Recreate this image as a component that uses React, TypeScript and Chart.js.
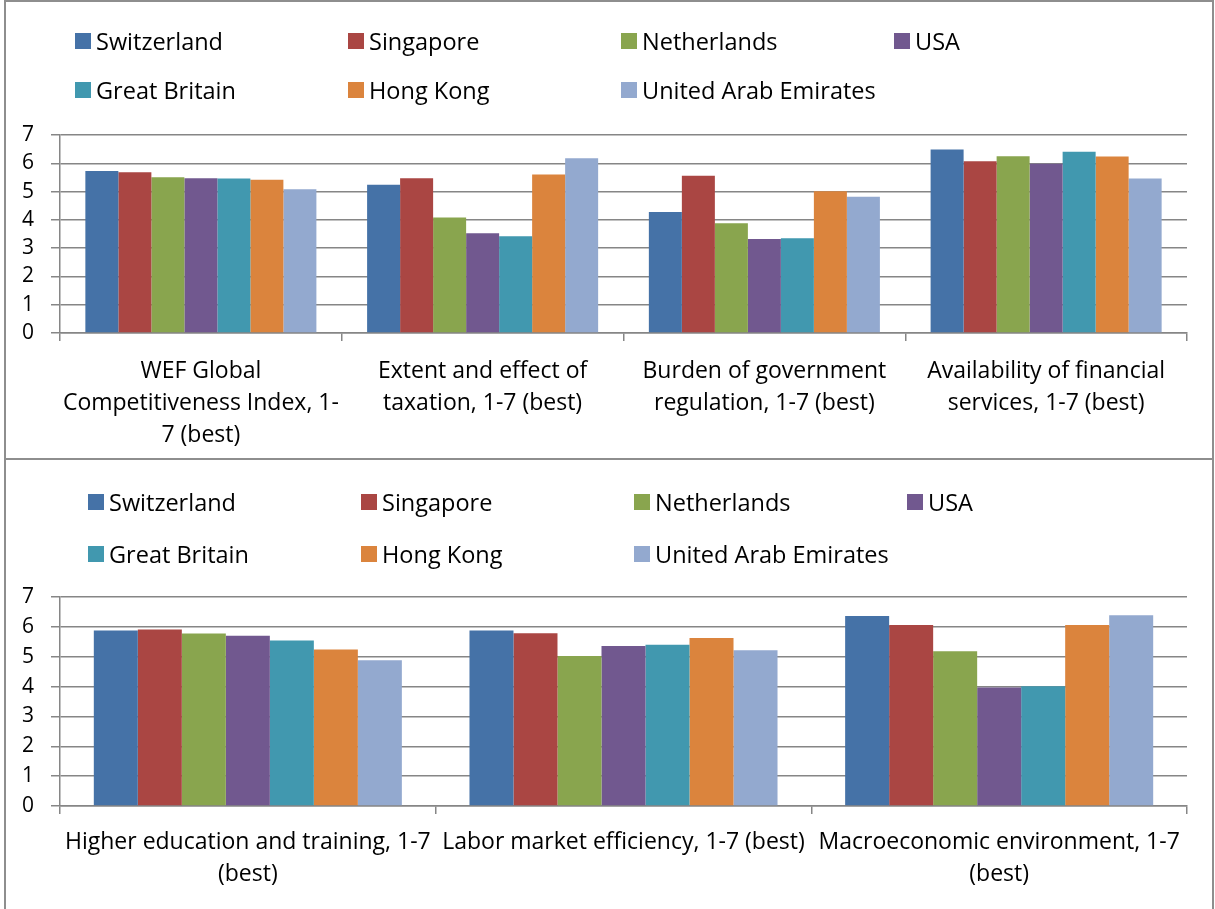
import React, { useEffect, useRef } from "react";
import { Chart, registerables } from "chart.js";

Chart.register(...registerables);

const FONT = "'Open Sans', sans-serif";
const GRID = "#868686";

const countries = [
  "Switzerland",
  "Singapore",
  "Netherlands",
  "USA",
  "Great Britain",
  "Hong Kong",
  "United Arab Emirates",
];
const countryColors = ["#4572A7", "#AA4643", "#89A54E", "#71588F", "#4198AF", "#DB843D", "#93A9CF"];

// Top chart
const topCategories: string[][] = [
  ["WEF Global", "Competitiveness Index, 1-", "7 (best)"],
  ["Extent and effect of", "taxation, 1-7 (best)"],
  ["Burden of government", "regulation, 1-7 (best)"],
  ["Availability of financial", "services, 1-7 (best)"],
];
const topSwitzerland = [5.73, 5.24, 4.28, 6.49];
const topSingapore = [5.68, 5.47, 5.56, 6.07];
const topNetherlands = [5.51, 4.08, 3.88, 6.25];
const topUSA = [5.47, 3.53, 3.32, 5.98];
const topGreatBritain = [5.46, 3.42, 3.35, 6.41];
const topHongKong = [5.42, 5.6, 5.01, 6.24];
const topUAE = [5.08, 6.18, 4.82, 5.46];

// Bottom chart
const bottomCategories: string[][] = [
  ["Higher education and training, 1-7", "(best)"],
  ["Labor market efficiency, 1-7 (best)"],
  ["Macroeconomic environment, 1-7", "(best)"],
];
const bottomSwitzerland = [5.88, 5.88, 6.36];
const bottomSingapore = [5.91, 5.79, 6.06];
const bottomNetherlands = [5.78, 5.02, 5.18];
const bottomUSA = [5.7, 5.36, 3.97];
const bottomGreatBritain = [5.54, 5.4, 4.01];
const bottomHongKong = [5.24, 5.63, 6.06];
const bottomUAE = [4.88, 5.22, 6.39];

const yTickLabels = ["0", "1", "2", "3", "4", "5", "6", "7"];

type BarChartProps = {
  top: number;
  height: number;
  categories: string[][];
  series: number[][];
  padTop: number;
  xAxisHeight: number;
  labelPadding: number;
};

function BarChart({ top, height, categories, series, padTop, xAxisHeight, labelPadding }: BarChartProps) {
  const ref = useRef<HTMLCanvasElement | null>(null);
  useEffect(() => {
    if (!ref.current) return;
    const chart = new Chart(ref.current, {
      type: "bar",
      data: {
        labels: categories as any,
        datasets: series.map((vals, i) => ({
          label: countries[i],
          data: vals,
          backgroundColor: countryColors[i],
          borderWidth: 0,
          categoryPercentage: 0.82,
          barPercentage: 1,
        })),
      },
      options: {
        responsive: false,
        animation: false,
        devicePixelRatio: 1,
        layout: { padding: { top: padTop, left: 0, right: 1215 - 1187, bottom: 0 } },
        plugins: { legend: { display: false }, tooltip: { enabled: false } },
        scales: {
          x: {
            offset: true,
            grid: {
              offset: true,
              drawOnChartArea: false,
              drawTicks: true,
              tickLength: 8,
              color: GRID,
              lineWidth: 1.5,
            },
            border: { display: true, color: GRID, width: 1.5 },
            ticks: {
              color: "#000",
              font: { family: FONT, size: 23, lineHeight: 1.4 },
              padding: labelPadding,
              maxRotation: 0,
              minRotation: 0,
              autoSkip: false,
            },
            afterFit: (s: any) => {
              s.height = xAxisHeight;
            },
          },
          y: {
            min: 0,
            max: 7,
            ticks: {
              stepSize: 1,
              color: "#000",
              font: { family: FONT, size: 21 },
              padding: 17,
              callback: (_v: any, i: number) => yTickLabels[i],
            },
            grid: { color: GRID, lineWidth: 1.5, tickLength: 9 },
            border: { display: true, color: GRID, width: 1.5 },
            afterFit: (s: any) => {
              s.width = 60;
            },
          },
        },
      } as any,
    });
    return () => chart.destroy();
  }, []);
  return (
    <canvas
      ref={ref}
      width={1215}
      height={height}
      style={{ position: "absolute", left: 0, top, width: 1215, height }}
    />
  );
}

function Legend({ boxLefts, rowCenters }: { boxLefts: number[]; rowCenters: number[] }) {
  return (
    <>
      {countries.map((name, i) => {
        const row = i < 4 ? 0 : 1;
        const col = i < 4 ? i : i - 4;
        const cy = rowCenters[row];
        const x = boxLefts[col];
        return (
          <div key={name}>
            <div
              style={{
                position: "absolute",
                left: x,
                top: cy - 8,
                width: 16,
                height: 16,
                background: countryColors[i],
              }}
            />
            <div
              style={{
                position: "absolute",
                left: x + 21,
                top: cy - 16,
                height: 32,
                lineHeight: "32px",
                fontFamily: FONT,
                fontSize: 23.5,
                color: "#000",
                whiteSpace: "nowrap",
              }}
            >
              {name}
            </div>
          </div>
        );
      })}
    </>
  );
}

export default function App() {
  const topSeries = [topSwitzerland, topSingapore, topNetherlands, topUSA, topGreatBritain, topHongKong, topUAE];
  const bottomSeries = [
    bottomSwitzerland,
    bottomSingapore,
    bottomNetherlands,
    bottomUSA,
    bottomGreatBritain,
    bottomHongKong,
    bottomUAE,
  ];
  return (
    <div
      style={{
        position: "absolute",
        left: 0,
        top: 0,
        width: 1215,
        height: 909,
        background: "#fff",
        overflow: "hidden",
      }}
    >
      <BarChart
        top={0}
        height={459}
        categories={topCategories}
        series={topSeries}
        padTop={135}
        xAxisHeight={459 - 333}
        labelPadding={14}
      />
      <BarChart
        top={459}
        height={450}
        categories={bottomCategories}
        series={bottomSeries}
        padTop={138}
        xAxisHeight={909 - 806}
        labelPadding={12}
      />
      <Legend boxLefts={[75, 348, 621, 894]} rowCenters={[41, 90]} />
      <Legend boxLefts={[88, 361, 634, 907]} rowCenters={[502, 554]} />
      <div
        style={{
          position: "absolute",
          left: 4,
          top: 0,
          width: 1210,
          height: 460,
          border: "2px solid #8e8e8e",
          boxSizing: "border-box",
          pointerEvents: "none",
        }}
      />
      <div
        style={{
          position: "absolute",
          left: 4,
          top: 458,
          width: 1210,
          height: 460,
          border: "2px solid #8e8e8e",
          boxSizing: "border-box",
          pointerEvents: "none",
        }}
      />
    </div>
  );
}
